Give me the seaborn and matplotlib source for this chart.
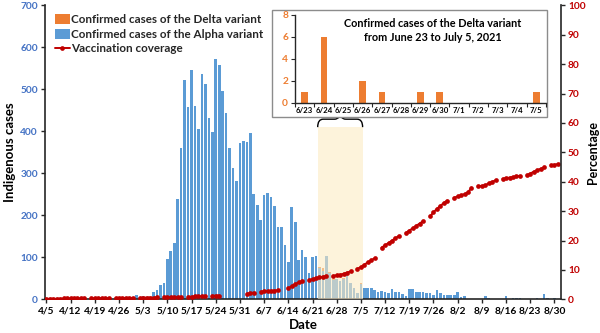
import numpy as np
import pandas as pd
import matplotlib
matplotlib.use("Agg")
import matplotlib.pyplot as plt
from matplotlib.patches import Rectangle, Patch, PathPatch
from matplotlib.lines import Line2D
from matplotlib.path import Path
import seaborn as sns

sns.set_theme(style="white")
plt.rcParams["font.family"] = ["Lato", "DejaVu Sans"]
plt.rcParams["font.weight"] = "bold"

# ---- data -------------------------------------------------------------
dates = pd.date_range("2021-04-05", periods=149, freq="D")
date_labels = [f"{d.month}/{d.day}" for d in dates]

alpha_cases = [
    0, 0, 0, 0, 0, 0, 0, 0, 0, 0, 0, 0, 0, 0, 0, 0, 0, 0, 0, 0,
    0, 0, 0, 0, 0, 0, 10, 2, 8, 2, 6, 18, 23, 34, 38, 95, 114, 135, 239, 361,
    522, 457, 546, 460, 405, 537, 512, 432, 398, 572, 559, 497, 443, 360, 312, 282, 373, 378, 375, 395,
    250, 224, 190, 248, 254, 244, 222, 173, 173, 129, 90, 220, 185, 94, 117, 101, 62, 101, 104, 75,
    68, 104, 62, 47, 48, 43, 49, 60, 40, 28, 14, 37, 28, 28, 26, 22, 17, 20, 17, 14,
    24, 18, 17, 13, 8, 24, 24, 18, 18, 17, 14, 15, 11, 22, 15, 10, 10, 11, 11, 18,
    6, 8, 2, 0, 1, 2, 2, 8, 3, 2, 2, 2, 2, 7, 1, 4, 4, 3, 1, 2,
    0, 1, 3, 1, 12, 4, 0, 3, 0,
]

delta_dates = ["6/23", "6/24", "6/25", "6/26", "6/27", "6/28", "6/29",
               "6/30", "7/1", "7/2", "7/3", "7/4", "7/5"]
delta_cases = [1, 6, 0, 2, 1, 0, 1, 1, 0, 0, 0, 0, 1]

nan = np.nan
vaccination = [
    0.2, 0.2, 0.2, 0.2, 0.2, 0.3, 0.3, 0.3, 0.3, 0.3, 0.3, 0.3, nan, 0.3, 0.4, 0.4, 0.4, 0.4, 0.4, nan,
    0.4, 0.5, 0.5, 0.5, 0.5, 0.5, nan, 0.5, 0.6, 0.6, 0.6, 0.6, 0.7, nan, 0.7, 0.7, 0.7, 0.8, 0.8, 0.8,
    nan, 0.9, 0.9, 1.0, 1.0, 1.0, 1.1, nan, 1.2, 1.3, 1.3, nan, nan, nan, nan, nan, nan, nan, 1.9, 2.1,
    2.3, nan, 2.6, 2.7, 2.8, 2.9, 3.0, 3.1, nan, nan, 3.8, 4.5, 5.2, 5.8, 6.2, nan, 6.6, 6.9, 7.2, 7.5,
    7.7, 7.9, nan, 8.0, 8.2, 8.4, 8.7, 9.1, 9.5, nan, 10.4, 11.0, 11.8, 12.6, 13.3, 14.0, nan, 17.6, 18.4, 19.2,
    20.0, 20.8, 21.6, nan, 22.6, 23.4, 24.2, 25.0, 25.8, 26.6, nan, 28.2, 29.6, 30.8, 31.8, 32.8, 33.6, nan, 34.6, 35.0,
    35.4, 35.8, 36.4, 38.0, nan, 38.5, 38.6, 38.8, 39.5, 40.0, 40.5, nan, 41.0, 41.2, 41.4, 41.6, 41.8, 42.0, nan, 42.2,
    42.8, 43.4, 43.9, 44.4, 44.9, nan, 45.6, 45.8, 46.0,
]

tick_days = list(range(0, 149, 7))
tick_labels = [date_labels[i] for i in tick_days]

# Delta cases placed on the full date axis (stacked on the Alpha bars)
delta_full = [0] * len(date_labels)
for lab, val in zip(delta_dates, delta_cases):
    delta_full[date_labels.index(lab)] = val

ORANGE = "#ED7D31"
BLUE = "#5B9BD5"
RED = "#C00000"
AXBLUE = "#4472C4"
DARK = "#262626"

bars = pd.DataFrame({
    "date": date_labels,
    "alpha": alpha_cases,
    "total": np.array(alpha_cases) + np.array(delta_full),
})

vac = pd.DataFrame({"day": np.arange(len(vaccination)), "pct": vaccination})
vac["seg"] = vac["pct"].isna().cumsum()
vac = vac.dropna()

# ---- figure -----------------------------------------------------------
fig = plt.figure(figsize=(6.0, 3.33), dpi=100)
ax = fig.add_axes([0.075, 0.101, 0.86, 0.883])

sns.barplot(data=bars, x="date", y="total", order=date_labels, color=ORANGE,
            saturation=1, width=0.76, linewidth=0, errorbar=None, ax=ax)
sns.barplot(data=bars, x="date", y="alpha", order=date_labels, color=BLUE,
            saturation=1, width=0.76, linewidth=0, errorbar=None, ax=ax)

# highlighted window 6/23 - 7/5
start = date_labels.index("6/23") - 0.5
stop = date_labels.index("7/5") + 0.5
ax.add_patch(Rectangle((start, 0), stop - start, 410, facecolor="#FDEBC4",
                       alpha=0.6, edgecolor="none", zorder=5))

# curly brace above the window
xm = (start + stop) / 2
y0, h = 410, 38
brace = Path(
    [(start, y0), (start, y0 + h / 2), (start + 1.6, y0 + h / 2),
     (xm - 1.6, y0 + h / 2), (xm, y0 + h / 2), (xm, y0 + h),
     (xm, y0 + h / 2), (xm + 1.6, y0 + h / 2),
     (stop - 1.6, y0 + h / 2), (stop, y0 + h / 2), (stop, y0)],
    [Path.MOVETO, Path.CURVE3, Path.CURVE3,
     Path.LINETO, Path.CURVE3, Path.CURVE3,
     Path.CURVE3, Path.CURVE3,
     Path.LINETO, Path.CURVE3, Path.CURVE3])
ax.add_patch(PathPatch(brace, facecolor="none", edgecolor="black", lw=1.0, zorder=6))

ax.set_ylim(0, 700)
ax.set_yticks(range(0, 701, 100))
ax.set_xticks(tick_days)
ax.set_xticklabels(tick_labels)
ax.set_xlim(-0.4, 148.9)
ax.set_xlabel("Date", fontsize=9.5, fontweight="bold", labelpad=3, color="black")
ax.set_ylabel("Indigenous cases", fontsize=9.5, fontweight="bold", labelpad=3, color="black")
ax.tick_params(axis="x", direction="out", length=3, width=1, colors=DARK,
               labelsize=7.3, labelcolor="black", pad=2, bottom=True)
ax.tick_params(axis="y", direction="out", length=3, width=1, colors=DARK,
               labelsize=7.3, labelcolor=AXBLUE, pad=2, left=True)
for t in ax.get_xticklabels() + ax.get_yticklabels():
    t.set_fontweight("bold")
for side in ("top", "right"):
    ax.spines[side].set_visible(False)
for side in ("left", "bottom"):
    ax.spines[side].set_color(DARK)
    ax.spines[side].set_linewidth(1.2)

# vaccination coverage on the right axis
ax2 = ax.twinx()
sns.lineplot(data=vac, x="day", y="pct", units="seg", estimator=None, color=RED,
             marker="o", markersize=3.4, markeredgewidth=0, linewidth=1.4, ax=ax2)
ax2.set_ylim(0, 100)
ax2.set_yticks(range(0, 101, 10))
ax2.set_ylabel("Percentage", fontsize=9, fontweight="bold", labelpad=1, color="black")
ax2.tick_params(axis="y", direction="out", length=3, width=1, colors=DARK,
                labelsize=7.3, labelcolor=RED, pad=2, right=True)
for t in ax2.get_yticklabels():
    t.set_fontweight("bold")
for side in ("top", "left", "bottom"):
    ax2.spines[side].set_visible(False)
ax2.spines["right"].set_color(DARK)
ax2.spines["right"].set_linewidth(1.2)
ax.set_xlim(-0.4, 148.9)

# legend
handles = [
    Patch(facecolor=ORANGE, edgecolor="none", label="Confirmed cases of the Delta variant"),
    Patch(facecolor=BLUE, edgecolor="none", label="Confirmed cases of the Alpha variant"),
    Line2D([0], [0], color=RED, lw=1.4, marker="o", markersize=3.4, markeredgewidth=0,
           label="Vaccination coverage"),
]
ax.legend(handles=handles, loc="upper left", bbox_to_anchor=(0.005, 0.995), frameon=False,
          prop={"weight": "bold", "size": 8.4}, handlelength=1.3, handleheight=1.0,
          handletextpad=0.1, labelspacing=0.3, borderaxespad=0.2)

# inset panel with the Delta cases
fig.patches.append(Rectangle((0.4528, 0.6477), 0.459, 0.322, transform=fig.transFigure,
                             facecolor="white", edgecolor="#8c8c8c", lw=1.0, zorder=1))
axi = fig.add_axes([0.4917, 0.6916, 0.4183, 0.2634], zorder=2)
axi.patch.set_alpha(0)
sns.barplot(x=delta_dates, y=delta_cases, order=delta_dates, color=ORANGE, saturation=1,
            width=0.35, linewidth=0, errorbar=None, ax=axi)
axi.set_ylim(0, 8)
axi.set_yticks(range(0, 9, 2))
axi.set_xlim(-0.5, len(delta_dates) - 0.5)
axi.set_xticks(np.arange(-0.5, len(delta_dates), 1.0), minor=True)
axi.tick_params(axis="x", which="major", length=0, labelsize=5.6, labelcolor="black", pad=3)
axi.tick_params(axis="x", which="minor", direction="out", length=3, width=0.8, colors=DARK, bottom=True)
axi.tick_params(axis="y", direction="out", length=3, width=0.8, colors=DARK,
                labelsize=7.3, labelcolor=ORANGE, pad=2, left=True)
for t in axi.get_xticklabels() + axi.get_yticklabels():
    t.set_fontweight("bold")
for side in ("top", "right"):
    axi.spines[side].set_visible(False)
for side in ("left", "bottom"):
    axi.spines[side].set_color(DARK)
    axi.spines[side].set_linewidth(1.0)
axi.set_xlabel("")
axi.set_ylabel("")
axi.text(0.55, 0.82, "Confirmed cases of the Delta variant\nfrom June 23 to July 5, 2021",
         transform=axi.transAxes, ha="center", va="center", fontsize=7.8,
         fontweight="bold", linespacing=1.35, color="black")

fig.savefig("out.png", dpi=100, facecolor="white")
